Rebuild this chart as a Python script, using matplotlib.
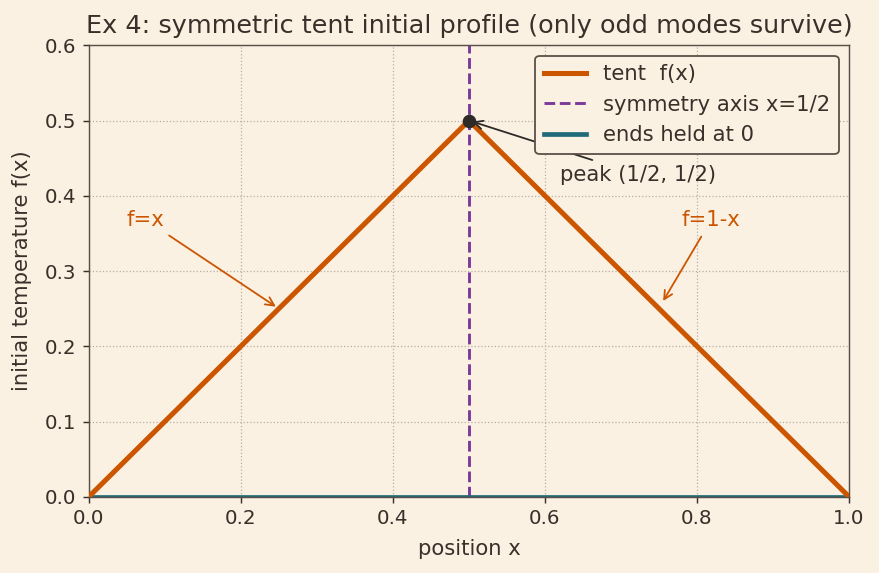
import matplotlib
matplotlib.use("Agg")
import matplotlib.pyplot as plt
import numpy as np

x_pts = [0.0, 0.5, 1.0]
f_pts = [0.0, 0.5, 0.0]
ends_x = [0.0, 1.0]
ends_y = [0.0, 0.0]
peak = (0.5, 0.5)
sym_x = 0.5

bg = "#FBF1E3"
txt = "#3B2F2A"
orange = "#CC5500"
purple = "#7A3A9A"
teal = "#1F6B7A"

plt.rcParams['font.family'] = ['DejaVu Sans']
fig, ax = plt.subplots(figsize=(879/130, 573/130), dpi=130)
fig.patch.set_facecolor(bg)
ax.set_facecolor(bg)

fs = 11.7
ax.plot(x_pts, f_pts, color=orange, lw=2.8, label="tent  f(x)", zorder=3)
ax.axvline(sym_x, color=purple, ls="--", lw=1.6, label="symmetry axis x=1/2", zorder=2)
ax.plot(ends_x, ends_y, color=teal, lw=2.6, label="ends held at 0", zorder=2)
ax.plot([peak[0]], [peak[1]], "o", color="#2E2A28", ms=6.5, zorder=5)

ax.annotate("peak (1/2, 1/2)", xy=peak, xytext=(0.62, 0.42), color=txt, fontsize=fs,
            arrowprops=dict(arrowstyle="->", color="#2E2A28", lw=1.0))
ax.annotate("f=x", xy=(0.25, 0.25), xytext=(0.05, 0.36), color=orange, fontsize=fs,
            arrowprops=dict(arrowstyle="->", color=orange, lw=1.0))
ax.annotate("f=1-x", xy=(0.753, 0.256), xytext=(0.78, 0.36), color=orange, fontsize=fs,
            arrowprops=dict(arrowstyle="->", color=orange, lw=1.0))

ax.set_xlim(0, 1)
ax.set_ylim(0, 0.6)
ax.set_xlabel("position x", color=txt, fontsize=fs, labelpad=6)
ax.set_ylabel("initial temperature f(x)", color=txt, fontsize=fs, labelpad=7)
ax.set_title("Ex 4: symmetric tent initial profile (only odd modes survive)", color=txt, fontsize=14.1, pad=7)
ax.grid(True, ls=":", color="#B8B0A4", lw=0.7)
ax.tick_params(colors=txt, labelsize=11)
for s in ax.spines.values():
    s.set_color("#5A5048")
leg = ax.legend(loc="upper right", fontsize=fs, facecolor=bg, edgecolor="#5A5048",
                framealpha=1.0, labelcolor=txt)
fig.subplots_adjust(left=0.101, right=0.966, top=0.921, bottom=0.133)
fig.savefig("out.png", dpi=130, facecolor=bg)
